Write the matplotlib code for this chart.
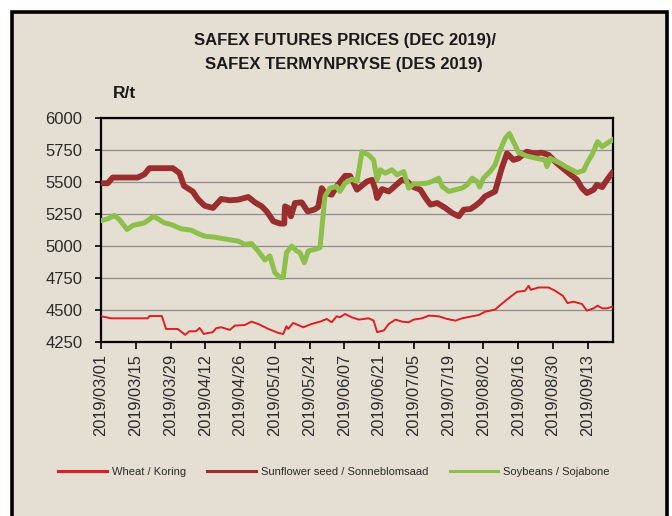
import matplotlib
matplotlib.use('Agg')
import matplotlib.pyplot as plt
import matplotlib.dates as mdates
from matplotlib.patches import Rectangle
from datetime import datetime
import numpy as np

plt.rcParams['font.family'] = ['Liberation Sans', 'DejaVu Sans']

# ---------------- data ----------------
start_date = '2019/03/01'
end_date = '2019/09/23'
tick_labels = ['2019/03/01', '2019/03/15', '2019/03/29', '2019/04/12', '2019/04/26',
               '2019/05/10', '2019/05/24', '2019/06/07', '2019/06/21', '2019/07/05',
               '2019/07/19', '2019/08/02', '2019/08/16', '2019/08/30', '2019/09/13']
y_ticks = [4250, 4500, 4750, 5000, 5250, 5500, 5750, 6000]
series_names = ['Wheat / Koring', 'Sunflower seed / Sonneblomsaad', 'Soybeans / Sojabone']
title_lines = ['SAFEX FUTURES PRICES (DEC 2019)/', 'SAFEX TERMYNPRYSE (DES 2019)']
unit_label = 'R/t'

# days since start_date, values in R/t
wheat_days = [0.0, 4.1, 18.8, 19.5, 24.5, 26.2, 30.9, 33.9, 35.6, 38.3, 39.7, 41.4, 45.0, 46.4,
              48.4, 51.9, 53.9, 57.9, 60.6, 63.3, 67.4, 71.4, 73.4, 74.7, 75.4, 77.4, 81.5,
              84.8, 88.2, 90.9, 92.9, 94.9, 96.2, 98.3, 101.0, 103.8, 107.8, 109.8, 111.2,
              113.9, 115.9, 118.6, 121.2, 123.9, 125.9, 129.3, 132.0, 136.0, 139.4, 142.8,
              145.4, 149.5, 152.2, 154.7, 158.7, 160.8, 164.1, 167.5, 170.8, 172.2, 173.1,
              176.2, 180.3, 182.9, 186.0, 187.9, 190.3, 193.7, 195.7, 198.4, 200.0, 201.8,
              203.8, 205.8]
wheat_vals = [4451, 4435, 4435, 4453, 4453, 4352, 4352, 4306, 4334, 4334, 4360, 4313, 4327, 4358,
              4365, 4345, 4378, 4383, 4409, 4391, 4352, 4321, 4313, 4373, 4352, 4399, 4365,
              4391, 4409, 4430, 4404, 4451, 4443, 4469, 4443, 4425, 4435, 4417, 4327,
              4340, 4391, 4425, 4409, 4404, 4425, 4435, 4456, 4451, 4430, 4417,
              4435, 4451, 4461, 4487, 4503, 4539, 4591, 4642, 4650, 4689, 4658,
              4676, 4676, 4650, 4611, 4554, 4565, 4547, 4495, 4513, 4534, 4513,
              4513, 4526]

sun_days = [0.0, 2.7, 4.7, 14.8, 17.5, 19.5, 28.9, 31.6, 33.4, 37.0, 39.0, 41.7, 45.1, 48.4,
            51.9, 55.3, 59.3, 62.0, 64.7, 66.7, 69.4, 72.1, 73.8, 74.1, 75.4, 76.5, 78.1,
            80.8, 83.2, 85.9, 87.5, 88.9, 90.2, 92.9, 94.9, 98.3, 100.3, 103.1, 107.1,
            109.2, 110.5, 111.2, 113.2, 115.9, 117.9, 121.2, 123.3, 125.9, 128.6, 130.7,
            132.7, 135.4, 138.7, 141.4, 144.1, 146.1, 148.8, 150.8, 152.7, 154.7, 158.7,
            161.4, 163.5, 166.1, 168.2, 171.5, 174.2, 177.6, 180.3, 183.6, 187.6, 191.7,
            193.7, 195.7, 198.4, 199.7, 201.8, 203.8, 205.8]
sun_vals = [5490, 5490, 5535, 5535, 5560, 5608, 5608, 5570, 5470, 5425, 5367, 5315, 5297, 5367,
            5357, 5362, 5383, 5341, 5310, 5271, 5194, 5175, 5175, 5310, 5297, 5232, 5336,
            5341, 5271, 5284, 5305, 5452, 5414, 5401, 5465, 5548, 5548, 5440, 5504,
            5517, 5440, 5375, 5445, 5426, 5460, 5517, 5504, 5460, 5440, 5375,
            5323, 5336, 5297, 5258, 5232, 5284, 5289, 5315, 5345, 5388, 5426,
            5608, 5724, 5672, 5685, 5737, 5724, 5729, 5711, 5646, 5582, 5517,
            5452, 5414, 5440, 5478, 5460, 5517, 5569]

soy_days = [0.0, 2.7, 5.4, 7.4, 10.5, 12.8, 17.5, 21.2, 25.5, 28.2, 32.3, 36.3, 39.0, 41.7,
            45.7, 49.9, 55.3, 57.9, 60.6, 63.3, 66.0, 68.0, 70.0, 72.1, 73.4, 74.7, 76.8,
            78.8, 80.1, 81.9, 83.5, 86.2, 88.2, 90.2, 92.2, 94.9, 96.2, 98.3, 101.0, 103.1,
            105.1, 107.8, 109.8, 111.2, 112.5, 114.5, 117.2, 119.2, 121.9, 123.9, 125.9,
            128.0, 131.3, 133.3, 136.0, 137.4, 140.1, 142.8, 145.4, 147.5, 149.5, 151.5,
            152.5, 154.0, 156.7, 158.7, 160.8, 162.8, 164.5, 166.1, 168.2, 171.5, 175.5,
            178.9, 179.6, 180.9, 185.0, 187.6, 191.7, 194.4, 195.7, 197.7, 200.0, 201.8,
            203.8, 205.8]
soy_vals = [5199, 5212, 5238, 5207, 5129, 5160, 5181, 5232, 5181, 5168, 5134, 5124, 5098, 5077,
            5069, 5055, 5038, 5012, 5020, 4961, 4891, 4922, 4792, 4754, 4754, 4948, 5000,
            4961, 4948, 4870, 4961, 4974, 4987, 5388, 5452, 5465, 5426, 5491, 5522, 5504,
            5737, 5711, 5672, 5517, 5595, 5569, 5595, 5556, 5582, 5452, 5486,
            5486, 5491, 5504, 5530, 5465, 5426, 5440, 5452, 5478, 5530, 5504,
            5460, 5530, 5582, 5633, 5750, 5841, 5879, 5815, 5729, 5703, 5685,
            5672, 5621, 5685, 5646, 5615, 5574, 5590, 5646, 5711, 5815, 5776,
            5802, 5828]

# ---------------- style ----------------
W, H = 672, 516
bg = '#e5ded2'
col_wheat = '#dc1f24'
col_sun = '#9a2e2e'
col_soy = '#8dc04b'
txt = '#2b2b2b'

fig = plt.figure(figsize=(W / 100, H / 100), dpi=100, facecolor='white')

# outer paper frame
frame = Rectangle((12 / W, -0.05), (667 - 12) / W, 1 - 12 / H + 0.05,
                  transform=fig.transFigure, facecolor=bg, edgecolor='black',
                  linewidth=2.6, zorder=-10)
fig.patches.append(frame)

ax = fig.add_axes([101 / W, 1 - 342 / H, (612.5 - 101) / W, (342 - 118) / H])
ax.set_facecolor('none')

fmt = '%Y/%m/%d'
base = mdates.date2num(datetime.strptime(start_date, fmt))
end = mdates.date2num(datetime.strptime(end_date, fmt))

ax.plot(base + np.array(wheat_days), wheat_vals, color=col_wheat, lw=1.4,
        solid_joinstyle='round', label=series_names[0], zorder=3)
ax.plot(base + np.array(sun_days), sun_vals, color=col_sun, lw=4.2,
        solid_joinstyle='round', label=series_names[1], zorder=4)
ax.plot(base + np.array(soy_days), soy_vals, color=col_soy, lw=3.6,
        solid_joinstyle='round', label=series_names[2], zorder=5)

ax.set_xlim(base, end)
ax.set_ylim(y_ticks[0], y_ticks[-1])
ax.set_yticks(y_ticks)
ax.set_yticklabels([str(v) for v in y_ticks])
xt = [mdates.date2num(datetime.strptime(t, fmt)) for t in tick_labels]
ax.set_xticks(xt)
ax.set_xticklabels(tick_labels, rotation=90, ha='center', va='top')

ax.grid(axis='y', color='#8e8e8e', lw=0.9, zorder=1)
ax.set_axisbelow(True)
for s in ax.spines.values():
    s.set_color('black')
    s.set_linewidth(1.6)

ax.tick_params(axis='y', direction='out', length=4.5, width=1.2, pad=9,
               labelsize=12, labelcolor=txt, color='black')
ax.tick_params(axis='x', direction='out', length=5, width=1.2, pad=3.5,
               labelsize=11.8, labelcolor=txt, color='black')

fig.text(345 / W, 1 - 40 / H, title_lines[0], ha='center', va='center',
         fontsize=12, fontweight='bold', color='#1a1a1a')
fig.text(344 / W, 1 - 64 / H, title_lines[1], ha='center', va='center',
         fontsize=12, fontweight='bold', color='#1a1a1a')
fig.text(125 / W, 1 - 93.5 / H, unit_label, ha='center', va='center',
         fontsize=12.5, fontweight='bold', color='#1a1a1a')

leg = fig.legend(loc='center', bbox_to_anchor=(334 / W, 1 - 472 / H), ncol=3,
                 frameon=False, fontsize=8, handlelength=4.4, handletextpad=0.45,
                 columnspacing=1.9, labelcolor=txt)
for line in leg.get_lines():
    line.set_linewidth(2.2)

fig.savefig('out.png', dpi=100, facecolor='white')
